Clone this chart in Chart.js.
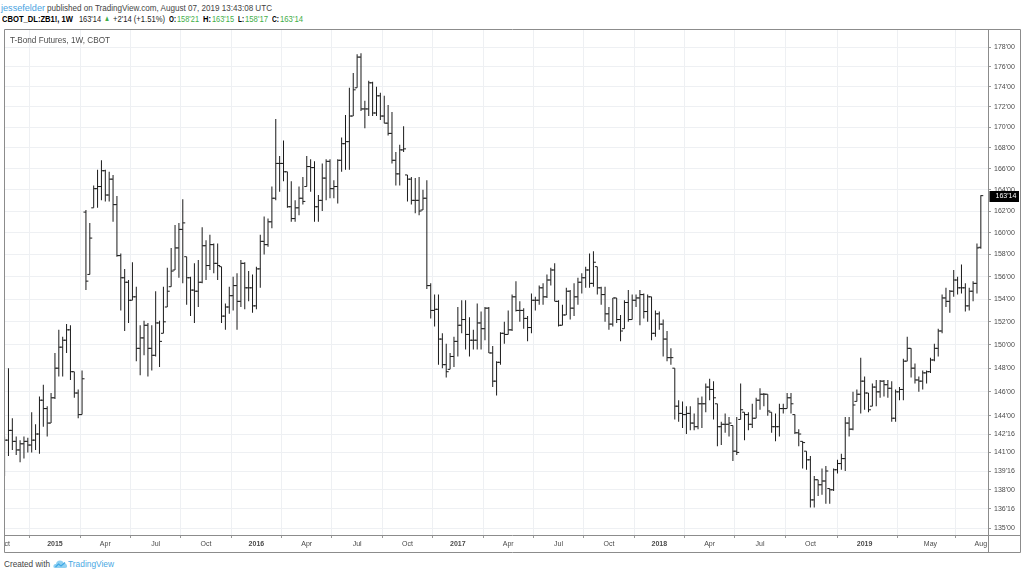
<!DOCTYPE html>
<html><head><meta charset="utf-8">
<script src="https://cdn.jsdelivr.net/npm/chart.js@4.4.1/dist/chart.umd.min.js"></script>
<style>
html,body{margin:0;padding:0;background:#fff;width:1024px;height:576px;overflow:hidden;font-family:"Liberation Sans",Arial,sans-serif;}
.t{position:absolute;white-space:nowrap;transform-origin:0 50%;line-height:1;font-size:9px;color:#333;}
.b{font-weight:bold;color:#000;}
.g{color:#3fae49;}
#wrap{position:absolute;left:4px;top:29px;width:1017px;height:524px;}
</style></head><body>
<span class="t" data-w="44" style="left:1px;top:4px;color:#4aa3df">jessefelder</span>
<span class="t" data-w="225" style="left:47px;top:4px;color:#444">published on TradingView.com, August 07, 2019 13:43:08 UTC</span>
<span class="t b" data-w="71" style="left:2px;top:15px">CBOT_DL:ZB1!, 1W</span>
<span class="t" data-w="22" style="left:79px;top:15px;color:#222">163'14</span>
<span class="t g" data-w="6" style="left:104px;top:15px;font-size:8px">▲</span>
<span class="t" data-w="52" style="left:113px;top:15px;color:#222">+2'14 (+1.51%)</span>
<span class="t b" data-w="7" style="left:169px;top:15px">O:</span>
<span class="t g" data-w="22" style="left:177px;top:15px">158'21</span>
<span class="t b" data-w="8" style="left:203px;top:15px">H:</span>
<span class="t g" data-w="22" style="left:212px;top:15px">163'15</span>
<span class="t b" data-w="6" style="left:238px;top:15px">L:</span>
<span class="t g" data-w="23" style="left:245px;top:15px">158'17</span>
<span class="t b" data-w="7" style="left:272px;top:15px">C:</span>
<span class="t g" data-w="23" style="left:280px;top:15px">163'14</span>
<div id="wrap"><canvas id="c" width="1017" height="524" style="width:1017px;height:524px"></canvas></div>
<span class="t" data-w="100" style="left:10px;top:36px;color:#4d4d4d;z-index:2">T-Bond Futures, 1W, CBOT</span>
<span class="t" data-w="46" style="left:4px;top:560px;color:#444">Created with</span>
<svg style="position:absolute;left:53px;top:559px" width="15" height="10" viewBox="0 0 15 10"><path d="M2 9 Q0 9 0.5 6.5 Q1 4.5 3 5 Q3.5 1.5 7 1.5 Q10 1.5 10.5 4 Q13.5 3.5 14 6.5 Q14.5 9 12 9 Z" fill="#8fd0f2"/><path d="M2.5 8 L5.5 5 L8 7 L12 3.5" stroke="#3fa9e6" stroke-width="1.2" fill="none"/></svg>
<span class="t" data-w="46" style="left:68px;top:560px;color:#4aa8e3">TradingView</span>
<script>
const firstWeek = '2014-10-06';
const opens = [
140.0,142.0,142.8,141.9,141.2,141.7,141.9,141.6,142.0,142.5,
145.3,144.6,143.4,145.5,148.0,149.8,150.4,151.3,147.7,145.9,
144.1,161.9,156.2,162.3,164.1,164.3,165.8,163.5,165.0,162.6,
157.9,155.9,155.5,153.9,154.2,149.7,150.6,151.7,149.7,149.1,
151.9,151.0,153.3,155.1,156.6,158.6,160.3,157.8,155.9,154.8,
154.7,155.5,158.8,157.0,158.9,157.2,156.9,152.5,153.3,154.3,
155.2,153.8,157.2,155.0,155.0,153.4,156.7,159.2,158.9,161.0,
163.2,166.5,166.5,165.7,162.4,161.3,162.3,163.2,164.3,166.2,
166.1,162.4,163.0,165.1,166.7,164.1,164.3,166.8,168.4,168.6,
171.1,173.9,177.0,171.8,171.8,174.4,171.4,173.1,171.1,170.4,
169.4,166.8,165.5,167.8,165.4,165.0,163.0,163.0,162.1,163.2,
155.2,153.0,153.1,150.5,148.3,147.9,149.0,150.3,151.7,152.2,
150.9,150.4,150.4,151.9,151.4,153.2,149.3,146.9,148.5,151.0,
150.9,151.3,154.2,153.0,153.0,152.3,151.5,153.9,153.9,155.0,
154.2,155.7,156.6,153.8,151.7,152.6,154.7,153.2,154.2,155.5,
155.9,156.6,155.4,156.9,155.0,154.4,152.7,151.8,154.1,152.2,
151.4,153.7,152.2,153.9,154.1,154.4,152.9,154.2,151.0,152.7,
151.8,150.5,148.9,148.0,144.8,144.2,144.1,144.2,143.4,143.1,
145.0,145.0,146.4,146.2,145.0,143.1,143.3,143.3,143.2,141.1,
143.7,144.3,144.1,143.3,143.8,145.3,145.8,145.8,144.3,143.1,
143.1,144.6,144.6,145.5,144.1,142.6,141.9,141.1,140.4,137.2,
138.8,138.4,138.7,138.1,138.0,139.6,140.1,140.5,143.4,142.9,
145.2,145.8,146.9,145.9,144.8,146.4,146.0,146.9,146.6,146.3,
143.8,146.0,146.2,148.6,149.7,148.0,147.0,146.9,147.6,147.7,
148.7,149.7,151.2,154.1,153.8,154.7,155.7,155.0,155.0,153.4,
154.7,155.4,158.66];
const highs = [
142.3,148.0,143.8,142.3,142.0,142.3,142.2,144.3,143.3,145.6,
146.6,144.8,145.9,149.3,151.3,150.7,151.8,151.7,147.7,146.2,
147.8,162.1,160.9,164.4,165.9,166.8,165.9,165.7,165.4,163.4,
158.1,156.7,155.7,157.3,155.1,151.7,152.1,151.9,151.7,154.7,
152.1,155.1,156.8,158.6,160.7,160.9,163.1,157.8,156.0,157.2,
157.5,160.5,159.3,159.8,159.0,159.0,156.9,153.6,155.1,156.0,
156.3,157.5,157.3,156.5,156.2,156.9,159.8,161.5,161.3,164.3,
170.8,167.2,168.7,165.7,164.8,163.0,164.3,165.2,167.2,166.9,
166.7,163.5,166.5,166.9,166.9,164.9,166.9,169.0,171.2,173.9,
175.4,177.3,177.4,172.6,174.6,174.5,174.0,173.4,173.1,172.2,
171.5,167.6,168.3,170.1,165.4,165.2,165.1,165.2,164.0,164.9,
155.4,154.4,154.4,151.0,150.1,149.3,150.7,153.3,153.9,153.9,
152.4,151.3,153.6,152.9,153.3,153.3,149.9,148.6,151.1,152.0,
153.0,154.4,155.6,153.8,153.2,152.5,154.5,154.2,155.2,155.4,
156.2,156.8,157.2,153.9,153.5,155.0,154.8,155.4,155.9,156.3,
156.9,158.1,158.3,156.9,155.1,155.1,153.3,154.1,154.1,152.6,
153.9,154.8,154.4,154.4,154.8,154.5,154.4,154.2,153.0,152.9,
152.2,151.2,149.7,148.0,145.3,145.2,144.8,144.8,144.2,145.5,
145.6,146.7,147.1,146.9,145.0,143.5,144.2,143.9,143.2,143.9,
146.7,144.3,144.3,145.0,145.5,146.3,145.9,145.8,144.3,144.2,
145.0,145.0,145.9,145.9,144.1,142.9,141.9,141.1,140.7,139.1,
138.8,139.7,139.9,138.1,139.7,140.4,140.9,143.9,143.9,146.0,
146.2,148.9,147.3,145.9,146.7,147.0,147.0,147.0,147.0,146.9,
146.2,146.4,148.8,150.7,149.7,148.4,147.3,147.8,147.8,148.9,
150.1,151.4,154.4,155.0,154.8,156.6,156.0,157.1,155.4,155.0,
155.6,159.0,163.47];
const lows = [
139.1,140.7,141.2,140.8,140.2,140.5,141.0,141.0,141.2,140.9,
143.1,142.3,143.4,145.4,147.3,147.3,149.3,147.0,145.5,143.8,
144.1,154.8,156.2,162.3,162.3,163.0,162.9,162.9,161.0,157.8,
153.0,151.2,151.9,153.9,148.6,147.4,149.1,147.3,147.8,149.0,
148.1,151.0,153.3,155.1,156.6,155.9,155.4,153.5,152.5,151.9,
153.3,155.4,155.7,156.6,156.3,155.7,151.9,151.3,152.7,153.0,
151.3,153.3,153.1,153.8,152.8,153.1,155.0,158.0,158.7,160.4,
163.0,163.8,164.8,162.3,161.0,161.0,161.6,162.6,164.3,163.8,
161.0,161.0,162.0,163.0,163.2,163.2,162.7,165.7,165.9,165.9,
171.1,173.9,171.6,169.9,171.1,171.1,171.1,170.7,170.4,169.2,
166.5,164.4,164.4,167.6,162.9,162.6,161.8,161.6,162.1,154.9,
152.3,151.6,148.3,148.0,147.2,147.9,148.1,149.0,151.0,149.6,
149.0,149.6,149.6,149.6,150.4,149.3,146.4,145.7,148.3,150.1,
150.9,151.2,152.9,152.0,151.4,150.3,151.0,153.0,153.5,153.5,
154.1,155.2,153.8,151.6,151.7,152.6,152.2,152.5,153.5,154.5,
155.0,155.0,155.1,154.4,153.5,152.0,151.3,151.6,151.9,150.3,
151.4,152.0,152.2,153.3,151.7,152.3,152.0,150.4,150.7,151.3,
149.0,148.6,148.3,143.7,143.5,143.0,142.5,142.8,142.8,142.9,
143.0,144.3,145.3,143.7,141.5,141.6,142.6,142.3,140.3,140.8,
143.7,142.0,142.8,143.0,143.8,144.5,144.8,144.0,142.6,141.9,
142.3,144.2,144.6,144.2,142.5,141.5,139.7,139.6,136.6,136.6,
137.5,137.6,136.9,136.9,137.9,139.3,139.6,139.5,142.3,142.8,
145.2,144.2,144.5,144.3,144.8,144.8,145.5,145.6,145.5,143.5,
143.5,145.3,145.3,148.6,147.2,146.7,146.0,146.2,146.7,147.6,
148.6,149.0,151.0,153.3,152.8,154.2,154.4,154.5,152.9,153.0,
153.8,154.5,158.53];
const closes = [
142.0,142.8,141.9,141.2,141.7,141.9,141.6,142.0,142.5,145.3,
144.6,143.4,145.5,148.0,149.8,150.4,151.3,147.7,145.9,144.1,
147.1,155.6,159.5,164.1,164.3,165.8,163.5,165.0,162.6,157.9,
155.9,155.5,153.9,154.2,149.7,150.6,151.7,149.7,149.1,151.9,
150.3,152.0,154.7,156.5,158.6,160.3,160.9,155.9,154.8,154.7,
155.5,158.8,157.0,158.9,157.2,157.0,152.5,153.3,154.3,155.2,
153.8,157.2,155.0,155.0,153.4,156.7,159.2,158.9,161.0,163.2,
166.5,166.5,165.7,162.4,161.3,162.3,163.2,162.9,166.2,166.1,
162.4,163.0,165.1,166.7,164.1,164.3,166.8,168.4,168.6,171.1,
173.7,177.0,171.8,171.8,174.4,171.4,173.1,171.1,170.4,169.4,
166.8,165.5,167.8,167.9,165.0,163.0,163.0,162.0,163.2,155.2,
153.0,153.1,150.5,148.3,147.7,149.0,150.3,151.7,152.2,150.9,
150.4,150.4,151.9,151.4,153.2,149.3,146.9,148.5,151.0,150.9,
151.3,154.2,153.0,153.0,152.3,151.5,153.9,153.9,155.0,154.2,
155.7,156.6,153.8,151.7,152.6,154.7,153.2,154.2,155.5,155.9,
156.6,155.4,157.3,155.0,154.4,152.7,151.8,154.1,152.2,151.2,
153.7,152.2,153.9,154.1,154.4,152.9,154.2,151.0,152.7,151.8,
150.5,148.9,148.9,144.8,144.2,144.1,144.2,143.4,143.1,145.0,
145.0,146.4,146.2,145.5,143.1,143.3,143.3,143.4,141.1,141.0,
144.5,144.1,143.3,143.8,145.3,145.8,145.8,144.4,143.1,143.1,
144.6,144.6,145.5,145.0,142.6,142.5,141.8,140.4,137.2,138.8,
138.4,138.7,139.5,138.0,139.6,140.1,140.5,143.4,142.9,144.9,
145.8,146.9,145.9,144.5,146.4,146.0,146.9,146.6,146.3,143.8,
146.0,146.2,148.6,149.7,148.0,147.0,146.9,147.6,147.7,148.7,
149.7,151.2,154.1,153.8,154.7,155.7,155.0,155.0,153.4,154.7,
155.4,158.6,163.44];
const xTickIdx = [0,13,26,39,52,65,78,91,104,117,130,143,156,169,182,195,208,222,239,252];
const xTickLabels = ['Oct','2015','Apr','Jul','Oct','2016','Apr','Jul','Oct','2017','Apr','Jul','Oct','2018','Apr','Jul','Oct','2019','May','Aug'];
const yTickValues = [135,136.5,138,139.5,141,142.5,144,146,148,150,152,154,156,158,160,162,164,166,168,170,172,174,176,178];
const lastPrice = 163.4375;

document.querySelectorAll('[data-w]').forEach(el=>{
  const w = el.getBoundingClientRect().width;
  if (w>0) el.style.transform = 'scaleX(' + (parseFloat(el.dataset.w)/w) + ')';
});

function fmt32(v){
  const i = Math.floor(v + 1e-9);
  let f = Math.round((v - i) * 32);
  return i + "'" + String(f).padStart(2,'0');
}

const idx = highs.map((_, i) => i);
const hlData = idx.map(i => ({x: i, y: [lows[i], highs[i]]}));
const openData = idx.map(i => ({x: i - 0.32, y: opens[i]}));
const closeData = idx.map(i => ({x: i + 0.32, y: closes[i]}));

Chart.defaults.font.family = '"Liberation Sans", Arial, sans-serif';

const framePlugin = {
  id: 'frame',
  afterDraw(chart) {
    const {ctx, chartArea: a, width, height} = chart;
    ctx.save();
    const rx = Math.round(a.right) + 0.5, by = Math.round(a.bottom) + 0.5;
    ctx.fillStyle = '#fff';
    ctx.fillRect(rx + 0.5, by + 0.5, width - rx, height - by);
    ctx.strokeStyle = '#8c8c8c';
    ctx.lineWidth = 1;
    ctx.beginPath();
    ctx.rect(0.5, 0.5, width - 1, height - 1);
    ctx.moveTo(rx, 0); ctx.lineTo(rx, height);
    ctx.moveTo(0, by); ctx.lineTo(width, by);
    ctx.stroke();
    const y = chart.scales.y.getPixelForValue(lastPrice);
    ctx.fillStyle = '#000';
    ctx.fillRect(rx + 1, Math.round(y) - 5, width - rx - 3, 11);
    ctx.fillStyle = '#fff';
    ctx.font = '7px "Liberation Sans", Arial, sans-serif';
    ctx.textBaseline = 'middle';
    ctx.textAlign = 'left';
    ctx.fillText(fmt32(lastPrice), rx + 7, Math.round(y) + 0.5);
    ctx.restore();
  }
};

new Chart(document.getElementById('c'), {
  type: 'bar',
  data: {
    datasets: [
      {type: 'bar', data: hlData, backgroundColor: '#1a1a1a', barThickness: 1, borderWidth: 0, inflateAmount: 0, grouped: false},
      {type: 'line', data: openData, showLine: false, pointStyle: 'line', pointRadius: 1.2, pointBorderWidth: 1, pointBorderColor: '#1a1a1a', pointBackgroundColor: '#1a1a1a'},
      {type: 'line', data: closeData, showLine: false, pointStyle: 'line', pointRadius: 1.2, pointBorderWidth: 1, pointBorderColor: '#1a1a1a', pointBackgroundColor: '#1a1a1a'}
    ]
  },
  options: {
    responsive: false, animation: false, events: [],
    layout: {padding: 0, autoPadding: false},
    plugins: {legend: {display: false}, tooltip: {enabled: false}},
    scales: {
      x: {
        type: 'linear', min: -0.15, max: 253.85, offset: false,
        afterBuildTicks: s => { s.ticks = xTickIdx.map(v => ({value: v})); },
        afterFit: s => { s.height = 18; s.paddingLeft = 0; s.paddingRight = 0; },
        grid: {color: '#eef0f3', tickColor: '#9a9a9a', tickLength: 3},
        border: {display: false},
        ticks: {
          autoSkip: false, maxRotation: 0, padding: 2, color: '#4a4a4a',
          font: c => ({size: 7, weight: /^\d{4}$/.test(xTickLabels[c.index] || '') ? 'bold' : 'normal'}),
          callback: (v, i) => xTickLabels[i]
        }
      },
      y: {
        type: 'logarithmic', position: 'right', min: 134.459, max: 179.884,
        afterBuildTicks: s => { s.ticks = yTickValues.map(v => ({value: v})); },
        afterFit: s => { s.width = 33; s.paddingTop = 0; s.paddingBottom = 0; },
        grid: {color: '#eef0f3', tickColor: '#9a9a9a', tickLength: 3},
        border: {display: false},
        ticks: {autoSkip: false, padding: 3, color: '#4a4a4a', font: {size: 7}, callback: v => fmt32(v)}
      }
    }
  },
  plugins: [framePlugin]
});
</script>
</body></html>
